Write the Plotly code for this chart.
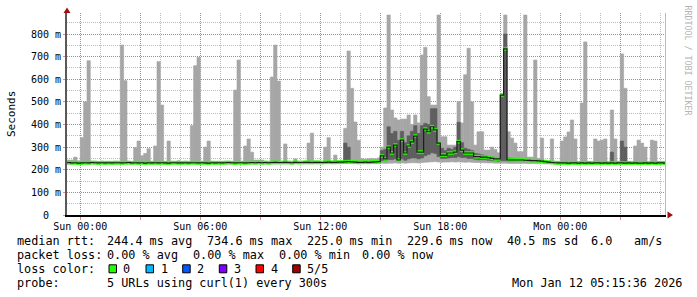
import numpy as np
import pandas as pd
import plotly.graph_objects as go

# ---------------- data (10-minute slots, starting Sat 2026-01-10 23:00) ----------------
# smoke top (max of the probes) in ms, one row per hour, 6 slots per row
top_ms = [
    237, 237, 243, 243, 256, 240,   # Sat 23:00
    342, 500, 682, 237, 238, 236,   # Sun 00:00
    238, 237, 236, 237, 238, 237,   # 01:00
    751, 594, 237, 236, 298, 327,   # 02:00
    262, 272, 293, 237, 305, 678,   # 03:00
    486, 237, 327, 237, 236, 240,   # 04:00
    237, 238, 237, 395, 660, 697,   # 05:00
    237, 300, 327, 237, 237, 236,   # 06:00
    237, 238, 237, 236, 552, 685,   # 07:00
    237, 305, 336, 278, 243, 243,   # 08:00
    243, 237, 237, 610, 751, 592,   # 09:00
    237, 314, 237, 237, 248, 237,   # 10:00
    237, 237, 318, 362, 237, 237,   # 11:00
    237, 300, 342, 237, 265, 237,   # 12:00
    240, 383, 725, 560, 411, 330,   # 13:00
    249, 247, 249, 250, 248, 252,   # 14:00
    300, 473, 884, 464, 429, 420,   # 15:00
    424, 424, 442, 400, 442, 407,   # 16:00
    707, 741, 523, 486, 486, 884,   # 17:00
    346, 346, 309, 309, 309, 501,   # 18:00
    407, 620, 737, 500, 309, 368,   # 19:00
    368, 287, 287, 300, 290, 275,   # 20:00
    530, 884, 368, 340, 318, 280,   # 21:00
    280, 884, 256, 256, 685, 250,   # 22:00
    340, 237, 237, 336, 237, 237,   # 23:00
    327, 345, 367, 420, 336, 237,   # Mon 00:00
    495, 765, 237, 237, 336, 327,   # 01:00
    331, 336, 237, 464, 336, 237,   # 02:00
    712, 560, 237, 237, 305, 331,   # 03:00
    318, 300, 237, 331, 327, 237,   # 04:00
    237, 237, 237, 237, 237, 237,   # 05:00
]

# smoke bottom (min of the probes) in ms
low_ms = [
    226, 225, 224, 226, 225, 226,
    225, 226, 226, 225, 226, 225,
    226, 225, 226, 226, 225, 226,
    225, 226, 225, 226, 226, 225,
    226, 226, 225, 226, 225, 226,
    225, 226, 226, 225, 226, 226,
    226, 225, 226, 226, 225, 226,
    225, 226, 225, 226, 226, 225,
    226, 226, 225, 226, 225, 226,
    225, 226, 226, 225, 226, 226,
    226, 225, 226, 226, 226, 227,
    227, 226, 227, 226, 227, 227,
    227, 227, 226, 227, 227, 227,
    227, 228, 227, 227, 228, 227,
    228, 228, 228, 228, 228, 227,
    228, 227, 228, 228, 227, 228,
    229, 228, 229, 229, 230, 229,
    230, 229, 230, 231, 231, 230,
    232, 233, 234, 235, 236, 234,
    233, 234, 234, 235, 234, 235,
    234, 233, 234, 233, 232, 232,
    231, 231, 230, 230, 229, 229,
    229, 229, 228, 228, 228, 228,
    228, 228, 227, 227, 227, 227,
    227, 226, 226, 226, 226, 225,
    225, 226, 225, 226, 225, 226,
    225, 226, 226, 225, 226, 225,
    226, 225, 226, 225, 226, 226,
    225, 226, 225, 226, 225, 226,
    226, 225, 226, 226, 225, 226,
    225, 226, 225, 226, 226, 225,
]

# median rtt in ms
med_ms = [
    231, 231, 232, 230, 231, 229,
    230, 231, 230, 232, 231, 230,
    231, 230, 231, 230, 231, 231,
    230, 231, 232, 230, 231, 230,
    231, 229, 231, 230, 231, 230,
    231, 230, 229, 231, 231, 230,
    230, 231, 230, 231, 231, 230,
    231, 230, 229, 231, 230, 231,
    230, 231, 232, 231, 230, 231,
    231, 230, 231, 232, 231, 232,
    231, 232, 231, 232, 233, 232,
    232, 233, 232, 231, 233, 232,
    232, 233, 233, 232, 233, 233,
    232, 233, 234, 233, 233, 234,
    234, 235, 236, 235, 234, 233,
    233, 234, 233, 234, 235, 236,
    261, 248, 300, 274, 309, 243,
    331, 274, 305, 323, 349, 278,
    278, 380, 368, 390, 376, 318,
    265, 265, 274, 274, 278, 324,
    287, 274, 274, 274, 258, 258,
    256, 256, 254, 250, 248, 248,
    530, 734, 243, 243, 243, 243,
    243, 242, 241, 240, 240, 239,
    238, 236, 234, 232, 231, 230,
    230, 230, 229, 230, 230, 229,
    230, 229, 230, 229, 230, 230,
    229, 230, 229, 230, 229, 230,
    230, 229, 230, 229, 230, 229,
    229, 230, 229, 230, 229, 230,
    230, 229, 230, 229, 230, 229,
]

# inner (denser) smoke band: slot start, low and high in ms
dark_time = ["2026-01-11 13:10", "2026-01-11 13:20",
             "2026-01-11 15:00", "2026-01-11 15:10", "2026-01-11 15:20", "2026-01-11 15:30", "2026-01-11 15:40", "2026-01-11 15:50",
             "2026-01-11 16:00", "2026-01-11 16:10", "2026-01-11 16:20", "2026-01-11 16:30", "2026-01-11 16:40", "2026-01-11 16:50",
             "2026-01-11 17:00", "2026-01-11 17:10", "2026-01-11 17:20", "2026-01-11 17:30", "2026-01-11 17:40", "2026-01-11 17:50",
             "2026-01-11 18:00", "2026-01-11 18:10", "2026-01-11 18:20", "2026-01-11 18:30", "2026-01-11 18:40", "2026-01-11 18:50",
             "2026-01-11 19:00", "2026-01-11 19:10", "2026-01-11 19:20", "2026-01-11 19:30", "2026-01-11 19:40", "2026-01-11 19:50",
             "2026-01-11 20:00", "2026-01-11 20:10", "2026-01-11 20:20", "2026-01-11 20:30", "2026-01-11 20:40", "2026-01-11 20:50",
             "2026-01-11 21:00", "2026-01-11 21:10", "2026-01-11 21:20", "2026-01-11 21:30",
             "2026-01-12 02:30", "2026-01-12 03:00", "2026-01-12 03:10"]
dark_lo = [236, 236,
           240, 240, 245, 245, 248, 242,
           248, 242, 248, 252, 252, 248,
           252, 262, 268, 275, 272, 258,
           250, 250, 252, 254, 254, 258,
           254, 254, 250, 250, 246, 244,
           244, 244, 242, 240, 240, 238,
           240, 240, 238, 238,
           236, 236, 236]
dark_hi = [318, 300,
           285, 290, 390, 360, 370, 330,
           370, 320, 350, 370, 395, 360,
           395, 405, 400, 470, 470, 318,
           295, 285, 295, 290, 300, 410,
           320, 295, 290, 285, 272, 270,
           266, 262, 258, 256, 252, 250,
           530, 800, 252, 250,
           278, 327, 300]

y_ticks = [0, 0.1, 0.2, 0.3, 0.4, 0.5, 0.6, 0.7, 0.8]
y_labels = ["0\u00a0\u00a0", "100 m", "200 m", "300 m", "400 m", "500 m", "600 m", "700 m", "800 m"]

stat_line1 = [(16.7, "median rtt:"), (107.3, "244.4 ms avg"), (207.3, "734.6 ms max"),
              (306.7, "225.0 ms min"), (407.3, "229.6 ms now"), (507.3, "40.5 ms sd"),
              (591.0, "6.0"), (634.0, "am/s")]
stat_line2 = [(16.7, "packet loss:"), (107.3, "0.00 % avg"), (193.3, "0.00 % max"),
              (279.3, "0.00 % min"), (362.0, "0.00 % now")]
loss_labels = ["0", "1", "2", "3", "4", "5/5"]
loss_colors = ["#26ff00", "#00b8ff", "#0059ff", "#7e00ff", "#ff0000", "#a00000"]
probe_text = "5 URLs using curl(1) every 300s"
date_text = "Mon Jan 12 05:15:36 2026"

# ---------------- geometry ----------------
W, H = 697, 297
PL, PR, PT, PB = 67, 666, 13, 215


def px(x):
    return (x - PL) / (PR - PL)


def py(y):
    return (PB - y) / (PB - PT)


FONT = "DejaVu Sans Mono"

slot_start = pd.date_range("2026-01-10 23:00", periods=len(top_ms), freq="10min")
centers = [(t + pd.Timedelta(minutes=5)).strftime("%Y-%m-%d %H:%M:%S") for t in slot_start]
starts = [t.strftime("%Y-%m-%d %H:%M:%S") for t in slot_start]
end_t = (slot_start[-1] + pd.Timedelta(minutes=10)).strftime("%Y-%m-%d %H:%M:%S")

top = np.array(top_ms) / 1000.0
low = np.array(low_ms) / 1000.0
med = np.array(med_ms) / 1000.0
dlo = np.array(dark_lo) / 1000.0
dhi = np.array(dark_hi) / 1000.0
dark_c = [(pd.Timestamp(t) + pd.Timedelta(minutes=5)).strftime("%Y-%m-%d %H:%M:%S") for t in dark_time]

SLOT_MS = 600000
LIGHT = "#a6a6a6"
DARK = "#5e5e5e"

fig = go.Figure()
fig.add_trace(go.Bar(x=centers, y=top - low, base=low, width=SLOT_MS,
                     marker=dict(color=LIGHT, line=dict(color=LIGHT, width=0.6)),
                     hoverinfo="skip"))
fig.add_trace(go.Bar(x=dark_c, y=dhi - dlo, base=dlo, width=SLOT_MS,
                     marker=dict(color=DARK, line=dict(color=DARK, width=0.6)),
                     hoverinfo="skip"))
fig.add_trace(go.Scatter(x=starts + [end_t], y=list(med) + [med[-1]], mode="lines",
                         line=dict(color="#1e1e1e", width=1.2, shape="hv"), hoverinfo="skip"))
GREEN_H = 0.014
fig.add_trace(go.Bar(x=centers, y=[GREEN_H] * len(med), base=med - GREEN_H / 2, width=SLOT_MS,
                     marker=dict(color="#26ff00", line=dict(color="#26ff00", width=0.5)),
                     hoverinfo="skip"))

# x ticks every 3 h (red grid), labels every 6 h
x_start = pd.Timestamp("2026-01-10 23:20:06")
x_end = x_start + pd.Timedelta(hours=(PR - PL) / 20.0)
tick_times = pd.date_range("2026-01-11 00:00", "2026-01-12 03:00", freq="3h")
x_tickvals = [t.strftime("%Y-%m-%d %H:%M:%S") for t in tick_times]
x_ticktext = [t.strftime("%a %H:%M") if t.hour % 6 == 0 else "" for t in tick_times]

MAJ = "rgba(235,90,90,0.75)"
MIN = "rgba(170,170,170,0.8)"

fig.update_layout(
    width=W, height=H,
    margin=dict(l=PL, r=W - PR, t=PT, b=H - PB, pad=0),
    paper_bgcolor="white", plot_bgcolor="white",
    barmode="overlay", showlegend=False,
    xaxis=dict(type="date", range=[x_start.strftime("%Y-%m-%d %H:%M:%S"), x_end.strftime("%Y-%m-%d %H:%M:%S")],
               tickvals=x_tickvals, ticktext=x_ticktext,
               showgrid=True, gridcolor=MAJ, griddash="1px,1px", gridwidth=1,
               minor=dict(dtick=3600000, tick0="2026-01-11 00:00", showgrid=True,
                          gridcolor=MIN, griddash="1px,1px", gridwidth=1),
               ticks="outside", ticklen=3, tickcolor=MAJ, tickwidth=1,
               ticklabelstandoff=-2,
               showline=True, linecolor="black", linewidth=2,
               tickfont=dict(family=FONT, size=10, color="black"),
               zeroline=False, fixedrange=True),
    yaxis=dict(range=[0, (PB - PT) / 181.0 * 0.8], tickvals=y_ticks, ticktext=y_labels,
               showgrid=True, gridcolor=MAJ, griddash="1px,1px", gridwidth=1,
               minor=dict(dtick=0.05, tick0=0, showgrid=True, gridcolor=MIN,
                          griddash="1px,1px", gridwidth=1),
               ticks="outside", ticklen=2, tickcolor=MAJ, tickwidth=1,
               showline=True, linecolor="#5a5a5a", linewidth=2,
               tickfont=dict(family=FONT, size=10, color="black"),
               zeroline=False, fixedrange=True),
)

shapes = []
# "now" rule at the right edge
shapes.append(dict(type="line", xref="paper", yref="paper", x0=px(665.5), x1=px(665.5),
                   y0=0, y1=1, line=dict(color="#c8bc8c", width=1)))
# axis arrows
shapes.append(dict(type="path", xref="paper", yref="paper",
                   path=f"M {px(63.5)} {py(13)} L {px(70.5)} {py(13)} L {px(67)} {py(7.5)} Z",
                   fillcolor="#a01010", line=dict(color="#a01010", width=0)))
shapes.append(dict(type="path", xref="paper", yref="paper",
                   path=f"M {px(667.5)} {py(211.5)} L {px(667.5)} {py(218.5)} L {px(673)} {py(215)} Z",
                   fillcolor="#a01010", line=dict(color="#a01010", width=0)))

annotations = []


def txt(x, y, s, size=11.8, color="black", xanchor="left", angle=0):
    annotations.append(dict(x=px(x), y=py(y), xref="paper", yref="paper", text=s.replace(" ", "\u00a0"),
                            showarrow=False, xanchor=xanchor, yanchor="middle", textangle=angle,
                            font=dict(family=FONT, size=size, color=color), borderpad=0))


for x, s in stat_line1:
    txt(x - 1, 241.3, s)
for x, s in stat_line2:
    txt(x - 1, 255.3, s)
txt(16.7 - 1, 268.7, "loss color:")
sq_x = [109.0, 146.0, 182.7, 219.3, 256.0, 292.7]
lab_x = [123.3, 160.7, 197.3, 234.0, 270.7, 307.3]
for sx, lx, lab, col in zip(sq_x, lab_x, loss_labels, loss_colors):
    shapes.append(dict(type="rect", xref="paper", yref="paper", x0=px(sx), x1=px(sx + 7.5),
                       y0=py(272.8), y1=py(264.8), fillcolor=col, line=dict(color="black", width=1)))
    txt(lx - 1, 268.7, lab)
txt(16.7 - 1, 283.3, "probe:")
txt(107.3 - 1, 283.3, probe_text)
txt(511.0, 283.3, date_text)

# axis title and watermark
annotations.append(dict(x=px(11), y=py(114), xref="paper", yref="paper", text="Seconds",
                        showarrow=False, textangle=-90, xanchor="center", yanchor="middle",
                        font=dict(family=FONT, size=11, color="black")))
annotations.append(dict(x=px(687.5), y=py(60), xref="paper", yref="paper",
                        text="RRDTOOL / TOBI OETIKER".replace(" ", "\u00a0"),
                        showarrow=False, textangle=90, xanchor="center", yanchor="middle",
                        font=dict(family=FONT, size=8.3, color="#b4b4b4")))

fig.update_layout(shapes=shapes, annotations=annotations)
fig.write_html("out.html")
